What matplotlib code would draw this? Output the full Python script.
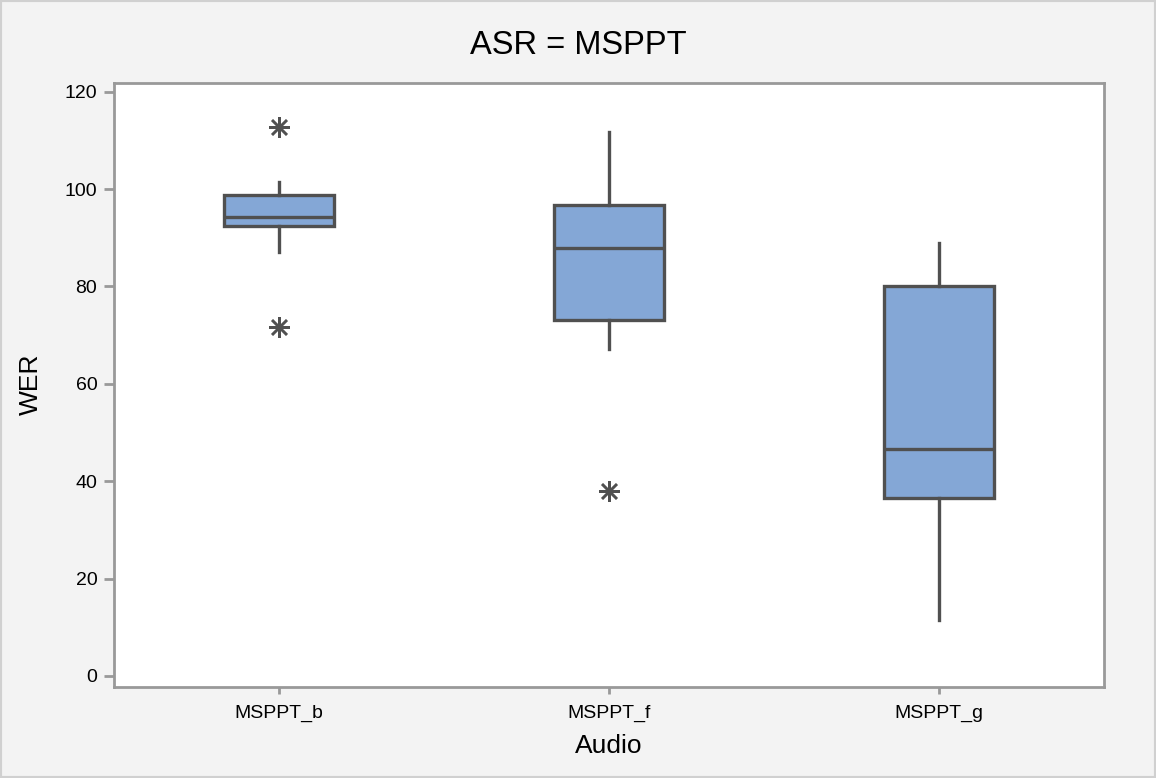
import matplotlib
matplotlib.use('Agg')
from matplotlib import pyplot as plt
from matplotlib.patches import Rectangle

# Box summary values (WER per audio set).
audio = ['MSPPT_b', 'MSPPT_f', 'MSPPT_g']
whisker_low = [87.1, 67.1, 11.6]
q1 = [92.5, 73.1, 36.6]
median = [94.3, 87.8, 46.6]
q3 = [98.8, 96.7, 80.1]
whisker_high = [101.5, 111.7, 88.9]
outliers = [[112.7, 71.6], [37.9], []]

stats = []
for i in range(len(audio)):
    stats.append({'label': audio[i], 'whislo': whisker_low[i], 'q1': q1[i],
                  'med': median[i], 'q3': q3[i], 'whishi': whisker_high[i],
                  'fliers': outliers[i]})

plt.rcParams['font.family'] = ['Liberation Sans', 'DejaVu Sans']

fig = plt.figure(dpi=100, figsize=(11.56, 7.78), facecolor='#f3f3f3')
ax = fig.add_axes([114 / 1156, 1 - 686.7 / 778, 990 / 1156, 604 / 778])
ax.set_facecolor('white')

edge = '#505050'
ax.bxp(stats, positions=[1, 2, 3], widths=0.336, patch_artist=True,
       showcaps=False,
       boxprops=dict(facecolor='#84a7d6', edgecolor=edge, linewidth=2.4),
       medianprops=dict(color=edge, linewidth=2.4),
       whiskerprops=dict(color=edge, linewidth=2.4),
       flierprops=dict(marker=(8, 2, 0), markersize=15, markeredgecolor=edge,
                       markerfacecolor=edge, markeredgewidth=1.8))

# Format plot.
ax.set_xlim(0.5, 3.5)
ax.set_ylim(-2.2, 121.85)
ax.set_yticks([0, 20, 40, 60, 80, 100, 120])
for s in ax.spines.values():
    s.set_color('#999999')
    s.set_linewidth(2.0)
ax.tick_params(axis='both', direction='out', color='#999999', width=2.0,
               labelsize=14, labelcolor='black')
ax.tick_params(axis='y', length=7, pad=5)
ax.tick_params(axis='x', length=5, pad=8)

fig.suptitle('ASR = MSPPT', fontsize=23.5, y=1 - 45.5 / 778, va='center')
ax.set_xlabel('Audio', fontsize=19, labelpad=9)
ax.set_ylabel('WER', fontsize=19, labelpad=16)

# Light border round the whole figure.
fig.patches.append(Rectangle((0, 0), 1, 1, transform=fig.transFigure,
                             fill=False, edgecolor='#d0d0d0', linewidth=3))

fig.savefig('out.png', dpi=100, facecolor=fig.get_facecolor())
